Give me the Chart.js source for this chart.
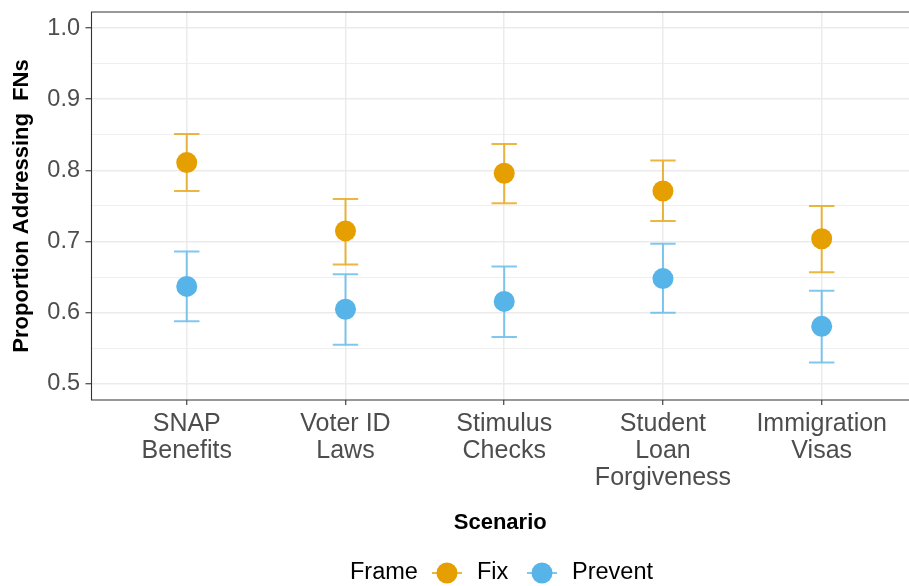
<!DOCTYPE html>
<html>
<head>
<meta charset="utf-8">
<script src="https://cdn.jsdelivr.net/npm/chart.js@4.4.1/dist/chart.umd.min.js"></script>
<style>
  html, body { margin: 0; padding: 0; background: #fff; }
  #wrap { width: 909px; height: 586px; }
</style>
</head>
<body>
<div id="wrap"><canvas id="frameChart"></canvas></div>
<script>
// Proportion addressing FNs by scenario and frame (mean with 95% CI)
const scenarios = [['SNAP', 'Benefits'], ['Voter ID', 'Laws'], ['Stimulus', 'Checks'], ['Student', 'Loan', 'Forgiveness'], ['Immigration', 'Visas']];
const frames = ['Fix', 'Prevent'];
const frameColors = ['#E69F00', '#56B4E9'];

const fixMean = [0.811, 0.715, 0.796, 0.771, 0.704];
const fixLow = [0.771, 0.668, 0.754, 0.729, 0.657];
const fixHigh = [0.851, 0.760, 0.837, 0.814, 0.750];

const preventMean = [0.637, 0.605, 0.616, 0.648, 0.581];
const preventLow = [0.588, 0.555, 0.566, 0.600, 0.530];
const preventHigh = [0.686, 0.654, 0.665, 0.697, 0.631];

const yTicks = [0.5, 0.55, 0.6, 0.65, 0.7, 0.75, 0.8, 0.85, 0.9, 0.95, 1.0];

const font = '"Liberation Sans", Arial, sans-serif';
const isMajor = v => Math.abs(Math.round(v * 10) - v * 10) < 1e-6;

const toPoints = arr => arr.map((v, i) => ({ x: i + 1, y: v }));

const ranges = [
  { low: fixLow, high: fixHigh },
  { low: preventLow, high: preventHigh }
];

// whiskers + caps drawn under the points
const errorBars = {
  id: 'errorBars',
  beforeDatasetsDraw(chart) {
    const { ctx, scales: { x, y } } = chart;
    ctx.save();
    ctx.lineWidth = 2;
    ranges.forEach((r, di) => {
      ctx.strokeStyle = frameColors[di];
      ctx.globalAlpha = 0.75;
      r.low.forEach((lo, i) => {
        const cx = x.getPixelForValue(i + 1);
        const x0 = x.getPixelForValue(i + 1 - 0.08);
        const x1 = x.getPixelForValue(i + 1 + 0.08);
        const yl = y.getPixelForValue(lo);
        const yh = y.getPixelForValue(r.high[i]);
        ctx.beginPath();
        ctx.moveTo(cx, yl); ctx.lineTo(cx, yh);
        ctx.moveTo(x0, yl); ctx.lineTo(x1, yl);
        ctx.moveTo(x0, yh); ctx.lineTo(x1, yh);
        ctx.stroke();
      });
    });
    ctx.restore();
  }
};

// panel border (runs off the right edge) and the bottom legend
const panelAndLegend = {
  id: 'panelAndLegend',
  afterDraw(chart) {
    const { ctx, chartArea: a } = chart;
    ctx.save();
    ctx.strokeStyle = '#333333';
    ctx.lineWidth = 1.1;
    ctx.beginPath();
    ctx.moveTo(a.right + 2, a.top);
    ctx.lineTo(a.left, a.top);
    ctx.lineTo(a.left, a.bottom);
    ctx.lineTo(a.right + 2, a.bottom);
    ctx.stroke();

    const ly = 573;
    ctx.font = '23.5px ' + font;
    ctx.textBaseline = 'middle';
    ctx.fillStyle = '#000';
    ctx.textAlign = 'left';
    ctx.fillText('Frame', 350, ly);

    const keys = [432, 527];
    chart.data.datasets.forEach((ds, i) => {
      const kx = keys[i];
      ctx.strokeStyle = ds.backgroundColor;
      ctx.globalAlpha = 0.75;
      ctx.lineWidth = 2;
      ctx.beginPath();
      ctx.moveTo(kx, ly); ctx.lineTo(kx + 30, ly);
      ctx.stroke();
      ctx.globalAlpha = 1;
      ctx.fillStyle = ds.backgroundColor;
      ctx.beginPath();
      ctx.arc(kx + 15, ly, 10.5, 0, Math.PI * 2);
      ctx.fill();
      ctx.fillStyle = '#000';
      ctx.fillText(ds.label, kx + 45, ly);
    });
    ctx.restore();
  }
};

new Chart(document.getElementById('frameChart'), {
  type: 'scatter',
  data: {
    datasets: [
      { label: frames[0], data: toPoints(fixMean), backgroundColor: frameColors[0], borderWidth: 0, pointRadius: 10.5, pointHoverRadius: 10.5 },
      { label: frames[1], data: toPoints(preventMean), backgroundColor: frameColors[1], borderWidth: 0, pointRadius: 10.5, pointHoverRadius: 10.5 }
    ]
  },
  options: {
    responsive: true,
    maintainAspectRatio: false,
    animation: false,
    layout: { autoPadding: false, padding: { top: 12, right: 0, left: 0, bottom: 0 } },
    plugins: {
      legend: { display: false },
      tooltip: { enabled: false }
    },
    scales: {
      x: {
        type: 'linear',
        min: 0.4,
        max: 5.55,
        afterBuildTicks: s => { s.ticks = scenarios.map((_, i) => ({ value: i + 1 })); },
        afterFit: s => { s.height = 186; s.paddingLeft = 0; s.paddingRight = 0; },
        border: { display: false },
        grid: { color: '#EBEBEB', lineWidth: 1.5, tickLength: 5, tickColor: '#333333', tickWidth: 1.1 },
        ticks: {
          color: '#4D4D4D',
          padding: 6,
          maxRotation: 0,
          autoSkip: false,
          font: { family: font, size: 25, lineHeight: 1.08 },
          callback: v => scenarios[Math.round(v) - 1]
        },
        title: {
          display: true,
          text: 'Scenario',
          color: '#000',
          font: { family: font, size: 22, weight: 'bold', lineHeight: 1.2 },
          padding: { top: 0, bottom: 50 }
        }
      },
      y: {
        type: 'linear',
        min: 0.4775,
        max: 1.0225,
        afterBuildTicks: s => { s.ticks = yTicks.map(v => ({ value: v })); },
        afterFit: s => { s.width = 91.5; s.paddingTop = 0; s.paddingBottom = 0; },
        border: { display: false },
        grid: {
          color: '#EBEBEB',
          lineWidth: c => isMajor(c.tick.value) ? 1.5 : 0.8,
          tickLength: 6,
          tickColor: c => isMajor(c.tick.value) ? '#333333' : 'rgba(0,0,0,0)',
          tickWidth: 1.1
        },
        ticks: {
          color: '#4D4D4D',
          padding: 5.5,
          font: { family: font, size: 23.5 },
          callback: v => isMajor(v) ? v.toFixed(1) : ''
        },
        title: {
          display: true,
          text: 'Proportion Addressing  FNs',
          color: '#000',
          font: { family: font, size: 22, weight: 'bold', lineHeight: 1.2 },
          padding: { top: 9, bottom: 0 }
        }
      }
    }
  },
  plugins: [errorBars, panelAndLegend]
});
</script>
</body>
</html>
